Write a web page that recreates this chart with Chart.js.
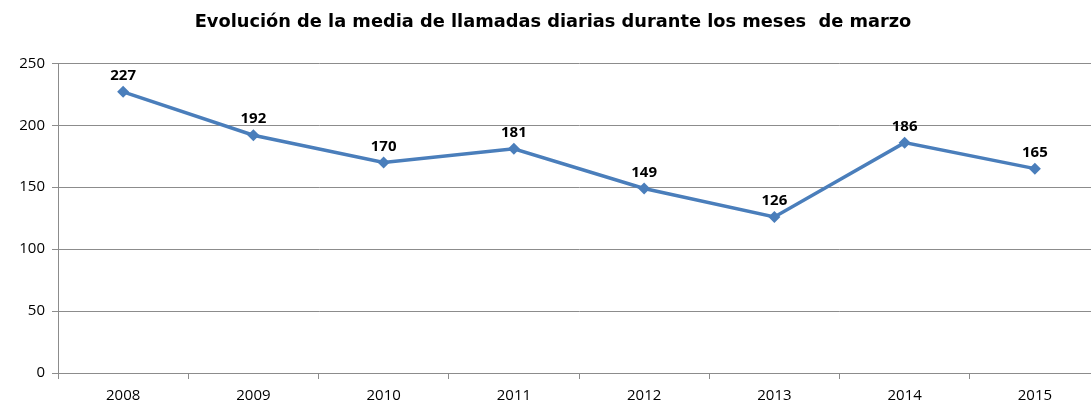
<!DOCTYPE html>
<html>
<head>
<meta charset="utf-8">
<script src="https://cdn.jsdelivr.net/npm/chart.js@4"></script>
<style>
  html, body { margin: 0; padding: 0; background: #fff; overflow: hidden; }
  canvas { display: block; }
</style>
</head>
<body>
<canvas id="chart" width="1106" height="407"></canvas>
<script>
// datos
const years = ['2008', '2009', '2010', '2011', '2012', '2013', '2014', '2015'];
const llamadas = [227, 192, 170, 181, 149, 126, 186, 165];
const titulo = 'Evolución de la media de llamadas diarias durante los meses  de marzo';

// etiquetas encima de cada punto
const valueLabels = {
  id: 'valueLabels',
  afterDatasetsDraw(chart) {
    const c = chart.ctx;
    const meta = chart.getDatasetMeta(0);
    c.save();
    c.font = 'bold 15px "Open Sans"';
    c.fillStyle = '#000';
    c.textAlign = 'center';
    c.textBaseline = 'middle';
    meta.data.forEach((pt, i) => {
      c.fillText(llamadas[i], pt.x, pt.y - 16);
    });
    c.restore();
  }
};

new Chart(document.getElementById('chart'), {
  type: 'line',
  data: {
    labels: years,
    datasets: [{
      data: llamadas,
      borderColor: '#4a7ebb',
      backgroundColor: '#4a7ebb',
      borderWidth: 3.5,
      pointStyle: 'rectRot',
      pointRadius: 6,
      pointBorderWidth: 0,
      tension: 0
    }]
  },
  options: {
    responsive: false,
    animation: false,
    layout: { padding: 0 },
    plugins: {
      legend: { display: false },
      tooltip: { enabled: false },
      title: {
        display: true,
        text: titulo,
        color: '#000',
        font: { family: 'DejaVu Sans', weight: 'bold', size: 17.8 },
        padding: { top: 12, bottom: 30 }
      }
    },
    scales: {
      x: {
        offset: true,
        afterFit: (s) => { s.height = 34; },
        grid: { offset: true, drawOnChartArea: false, drawTicks: true, tickLength: 6, color: '#8c8c8c' },
        border: { color: '#8c8c8c', width: 1 },
        ticks: { color: '#000', padding: 8, font: { family: 'Open Sans', size: 15 } }
      },
      y: {
        min: 0,
        max: 250,
        afterFit: (s) => { s.width = 58; },
        grid: { color: '#8c8c8c', tickLength: 6 },
        border: { color: '#8c8c8c', width: 1 },
        ticks: { stepSize: 50, color: '#000', padding: 7, font: { family: 'Open Sans', size: 15 } }
      }
    }
  },
  plugins: [valueLabels]
});
</script>
</body>
</html>
